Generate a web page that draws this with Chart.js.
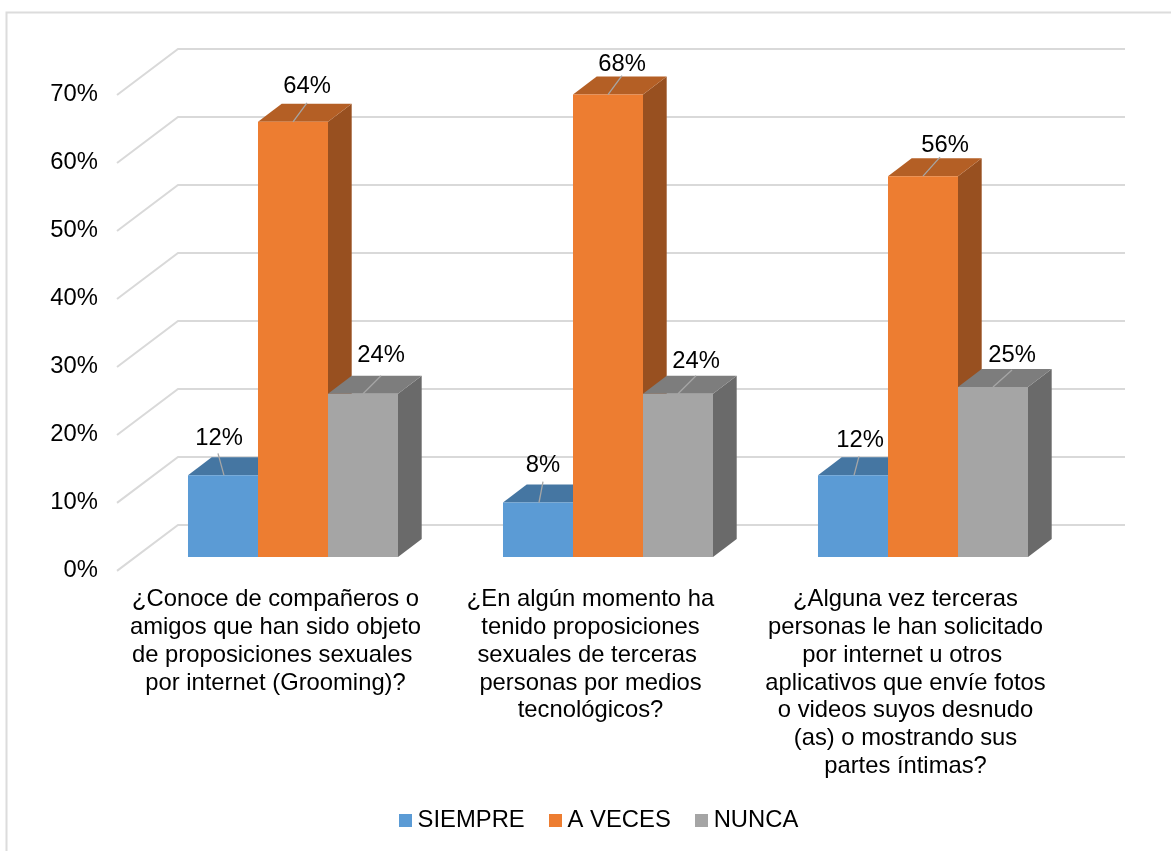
<!DOCTYPE html>
<html lang="es">
<head>
<meta charset="utf-8">
<title>Grooming</title>
<style>
html,body{margin:0;padding:0;background:#fff;overflow:hidden}
canvas{display:block}
</style>
<script src="https://cdn.jsdelivr.net/npm/chart.js@4/dist/chart.umd.min.js"></script>
</head>
<body>
<canvas id="c" width="1171" height="851"></canvas>
<script>
const categories = [
  ["¿Conoce de compañeros o","amigos que han sido objeto","de proposiciones sexuales ","por internet (Grooming)?"],
  ["¿En algún momento ha","tenido proposiciones","sexuales de terceras ","personas por medios","tecnológicos?"],
  ["¿Alguna vez terceras","personas le han solicitado","por internet u otros ","aplicativos que envíe fotos","o videos suyos desnudo","(as) o mostrando sus","partes íntimas?"]
];
const seriesNames = ["SIEMPRE","A VECES","NUNCA"];
const siempre = [12, 8, 12];
const aVeces = [64, 68, 56];
const nunca = [24, 24, 25];
const yMax = 70;
const yStep = 10;

const frontColors = ["#5B9BD5","#ED7D31","#A5A5A5"];
const topColors = ["#4576A2","#B45F25","#7D7D7D"];
const sideColors = ["#3A6388","#985020","#6A6A6A"];
const FONT = '"Liberation Sans", Arial, sans-serif';
const FS = 23.8;
const DX = 23.7, DY = -18;
// label centre offset from top-front-centre of each bar, by series then category
const labelOffsets = [
  [[-4,-37],[5,-37],[7,-35]],
  [[14,-35],[14,-30],[22,-31]],
  [[18,-38],[18,-32],[19,-32]]
];
const leaderEnds = [
  [[-5,-22],[5,-21],[6,-19]],
  [[14,-19],[14,-19],[17,-19]],
  [[18,-18],[18,-18],[19,-17]]
];

function swatch(color){
  const s = document.createElement('canvas');
  s.width = 13; s.height = 13;
  const g = s.getContext('2d');
  g.fillStyle = color; g.fillRect(0,0,13,13);
  return s;
}

const scene3d = {
  id:'scene3d',
  beforeDraw(chart){
    const ctx = chart.ctx, y = chart.scales.y;
    ctx.save();
    ctx.strokeStyle = '#dcdcdc';
    ctx.lineWidth = 2;
    ctx.strokeRect(6.5,12.5,1400,1200);
    ctx.strokeStyle = '#d9d9d9';
    ctx.lineWidth = 2;
    ctx.lineJoin = 'miter';
    for(let v=0;v<=yMax;v+=yStep){
      const p = y.getPixelForValue(v);
      ctx.beginPath();
      ctx.moveTo(117,p+14);
      ctx.lineTo(178,p-32);
      ctx.lineTo(1125,p-32);
      ctx.stroke();
    }
    ctx.restore();
  },
  beforeDatasetsDraw(chart){
    const ctx = chart.ctx;
    ctx.save();
    const base = chart.scales.y.getPixelForValue(0);
    chart.data.datasets.forEach((ds,i)=>{
      chart.getDatasetMeta(i).data.forEach(bar=>{
        const l = bar.x-bar.width/2, r = bar.x+bar.width/2, t = bar.y;
        ctx.fillStyle = sideColors[i];
        ctx.beginPath();
        ctx.moveTo(r,t);ctx.lineTo(r+DX,t+DY);ctx.lineTo(r+DX,base+DY);ctx.lineTo(r,base);
        ctx.closePath();ctx.fill();
        ctx.fillStyle = topColors[i];
        ctx.beginPath();
        ctx.moveTo(l,t);ctx.lineTo(l+DX,t+DY);ctx.lineTo(r+DX,t+DY);ctx.lineTo(r,t);
        ctx.closePath();ctx.fill();
      });
    });
    ctx.restore();
  },
  afterDatasetsDraw(chart){
    const ctx = chart.ctx;
    ctx.save();
    ctx.font = FS+'px '+FONT;
    ctx.textAlign = 'center';
    ctx.textBaseline = 'middle';
    chart.data.datasets.forEach((ds,i)=>{
      chart.getDatasetMeta(i).data.forEach((bar,j)=>{
        ctx.strokeStyle = '#a6a6a6';
        ctx.lineWidth = 1.3;
        ctx.beginPath();
        ctx.moveTo(bar.x+(i===0?1:0),bar.y);
        ctx.lineTo(bar.x+leaderEnds[i][j][0],bar.y+leaderEnds[i][j][1]);
        ctx.stroke();
        ctx.fillStyle = '#000';
        ctx.fillText(ds.data[j]+'%',bar.x+labelOffsets[i][j][0],bar.y+labelOffsets[i][j][1]);
      });
    });
    ctx.restore();
  }
};

new Chart(document.getElementById('c'),{
  type:'bar',
  data:{
    labels:categories,
    datasets:[siempre,aVeces,nunca].map((d,i)=>({
      label:seriesNames[i],
      data:d,
      backgroundColor:frontColors[i],
      borderWidth:0,
      categoryPercentage:0.6667,
      barPercentage:1
    }))
  },
  options:{
    responsive:false,
    animation:false,
    layout:{padding:{top:81,left:32,right:0,bottom:9}},
    plugins:{
      title:{display:false},
      tooltip:{enabled:false},
      legend:{
        position:'bottom',
        labels:{
          color:'#000',
          font:{family:FONT,size:FS},
          usePointStyle:true,
          pointStyleWidth:1,
          boxHeight:13,
          padding:30,
          generateLabels(chart){
            return chart.data.datasets.map((ds,i)=>({
              text:ds.label,
              fontColor:'#000',
              fillStyle:frontColors[i],
              strokeStyle:frontColors[i],
              lineWidth:0,
              pointStyle:swatch(frontColors[i]),
              datasetIndex:i
            }));
          }
        }
      }
    },
    scales:{
      x:{
        grid:{display:false},
        border:{display:false},
        afterFit(s){s.height=221.3;},
        ticks:{
          color:'#000',
          font:{family:FONT,size:FS,lineHeight:1.165},
          padding:21,
          labelOffset:-17.5,
          autoSkip:false,
          maxRotation:0,
          minRotation:0
        }
      },
      y:{
        min:0,max:yMax,
        grid:{display:false,drawTicks:false},
        border:{display:false},
        afterFit(s){s.width=103.5;},
        ticks:{
          stepSize:yStep,
          color:'#000',
          font:{family:FONT,size:FS},
          padding:37.5,
          labelOffset:13.5,
          callback:v=>v+'%'
        }
      },
      yRight:{
        position:'right',
        min:0,max:yMax,
        grid:{display:false,drawTicks:false},
        border:{display:false},
        afterFit(s){s.width=90.5;},
        ticks:{display:false}
      }
    }
  },
  plugins:[scene3d]
});
</script>
</body>
</html>
